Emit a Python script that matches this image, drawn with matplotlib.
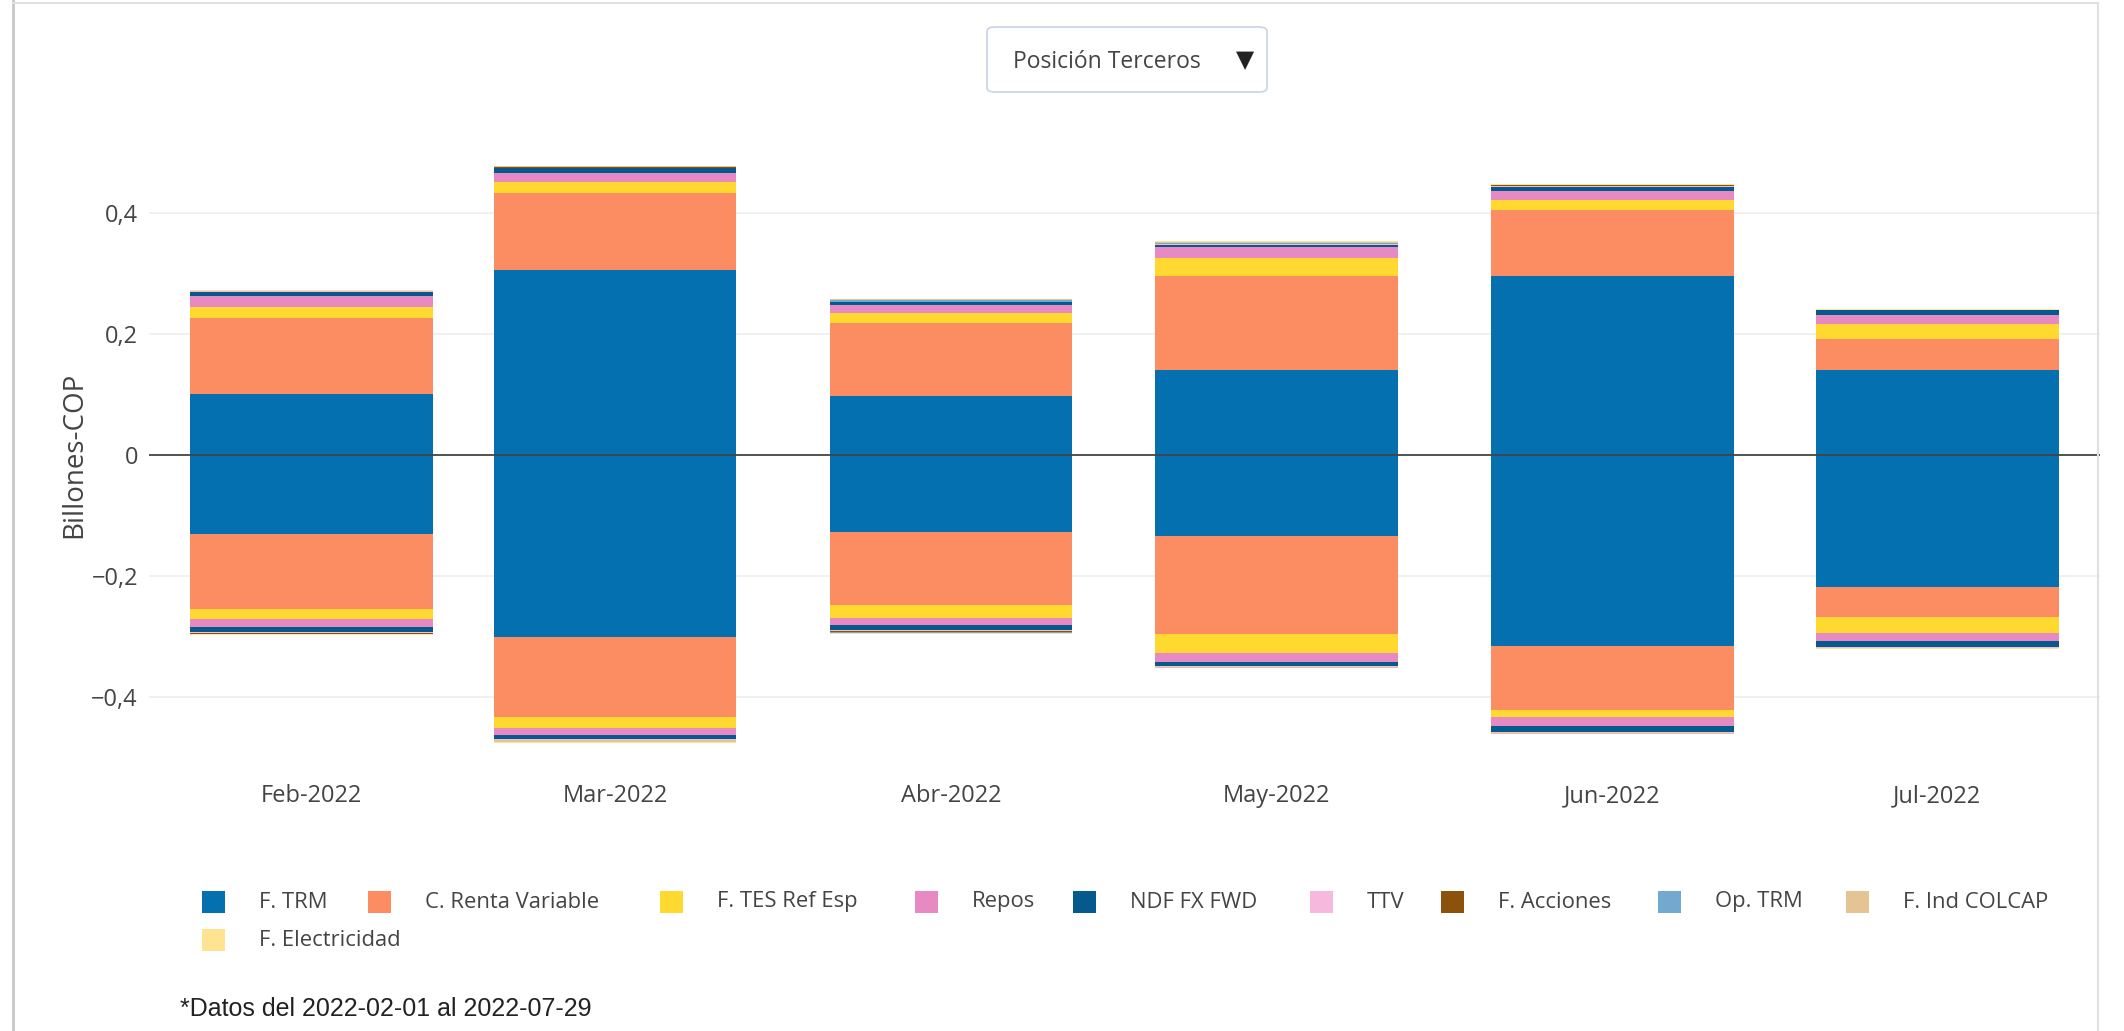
import matplotlib
matplotlib.use("Agg")
import matplotlib.pyplot as plt
import matplotlib.patches as mpatches
import matplotlib.dates as mdates
from matplotlib.ticker import FuncFormatter
import numpy as np

MONTHS = ["Feb-2022", "Mar-2022", "Abr-2022", "May-2022", "Jun-2022", "Jul-2022"]
DATES = ["2022-02-01", "2022-03-01", "2022-04-01", "2022-05-01", "2022-06-01", "2022-07-01"]

SERIES = ["F. TRM", "C. Renta Variable", "F. TES Ref Esp", "Repos", "NDF FX FWD",
          "TTV", "F. Acciones", "Op. TRM", "F. Ind COLCAP", "F. Electricidad"]
COLORS = ["#0570b0", "#fc8d62", "#ffd92f", "#e78ac3", "#045a8d",
          "#f6b8dc", "#8c510a", "#74a9cf", "#e5c494", "#fee391"]

# billones COP, positive and negative legs per series
TRM_POS   = [0.101, 0.305, 0.098, 0.141, 0.295, 0.141]
TRM_NEG   = [-0.130, -0.300, -0.127, -0.134, -0.316, -0.217]
RENTA_POS = [0.125, 0.127, 0.120, 0.154, 0.109, 0.050]
RENTA_NEG = [-0.124, -0.133, -0.120, -0.162, -0.105, -0.051]
TES_POS   = [0.019, 0.019, 0.016, 0.030, 0.016, 0.025]
TES_NEG   = [-0.017, -0.018, -0.022, -0.030, -0.011, -0.025]
REPOS_POS = [0.017, 0.015, 0.013, 0.019, 0.016, 0.015]
REPOS_NEG = [-0.013, -0.011, -0.011, -0.015, -0.016, -0.014]
NDF_POS   = [0.007, 0.007, 0.005, 0.003, 0.007, 0.008]
NDF_NEG   = [-0.008, -0.007, -0.009, -0.008, -0.009, -0.010]
TTV_POS   = [0.001, 0.001, 0.001, 0.001, 0.001, 0.001]
TTV_NEG   = [-0.001, -0.001, -0.001, -0.001, -0.001, -0.001]
ACC_POS   = [0.000, 0.001, 0.000, 0.000, 0.001, 0.000]
ACC_NEG   = [-0.002, -0.001, -0.002, 0.000, -0.001, 0.000]
OPTRM_POS = [0.000, 0.000, 0.003, 0.002, 0.000, 0.000]
OPTRM_NEG = [0.000, 0.000, -0.001, 0.000, 0.000, 0.000]
COLCAP_POS = [0.001, 0.002, 0.001, 0.002, 0.001, 0.000]
COLCAP_NEG = [-0.001, -0.003, -0.001, -0.001, -0.001, -0.001]
ELEC_POS  = [0.001, 0.000, 0.001, 0.001, 0.001, 0.001]
ELEC_NEG  = [-0.001, -0.001, -0.001, -0.001, -0.001, -0.001]

POS = [TRM_POS, RENTA_POS, TES_POS, REPOS_POS, NDF_POS,
       TTV_POS, ACC_POS, OPTRM_POS, COLCAP_POS, ELEC_POS]
NEG = [TRM_NEG, RENTA_NEG, TES_NEG, REPOS_NEG, NDF_NEG,
       TTV_NEG, ACC_NEG, OPTRM_NEG, COLCAP_NEG, ELEC_NEG]

TXT = "#444444"
W, H = 2124, 1031
BAR_DAYS = 22.4

fig = plt.figure(figsize=(W / 100, H / 100), dpi=100)
fig.patch.set_facecolor("white")

ax = fig.add_axes([149 / W, 1 - 758 / H, (2100 - 149) / W, (758 - 152) / H])
x = mdates.date2num(np.array(DATES, dtype="datetime64[D]"))
bottom_pos = np.zeros(len(MONTHS))
bottom_neg = np.zeros(len(MONTHS))
for name, col, pv, nv in zip(SERIES, COLORS, POS, NEG):
    pv = np.array(pv)
    nv = np.array(nv)
    ax.bar(x, pv, BAR_DAYS, bottom=bottom_pos, color=col, linewidth=0, zorder=2)
    ax.bar(x, nv, BAR_DAYS, bottom=bottom_neg, color=col, linewidth=0, zorder=2)
    bottom_pos += pv
    bottom_neg += nv

ax.set_xlim(x[0] - 15, x[-1] + 15)
ax.set_ylim(-0.5, 0.5)
ax.set_yticks([-0.4, -0.2, 0, 0.2, 0.4])
ax.yaxis.set_major_formatter(FuncFormatter(
    lambda v, p: "0" if abs(v) < 1e-9 else f"{v:.1f}".replace(".", ",").replace("-", "\u2212")))
ax.set_xticks(x)
ax.set_xticklabels(MONTHS)
for gy in [-0.4, -0.2, 0.2, 0.4]:
    ax.axhline(gy, color="#eeeeee", lw=1.2, zorder=0)
ax.axhline(0, color="#444444", lw=1.3, zorder=3)
for s in ax.spines.values():
    s.set_visible(False)
ax.tick_params(length=0, labelsize=17, labelcolor=TXT)
ax.tick_params(axis="x", pad=19)
ax.tick_params(axis="y", pad=8)
for lab in ax.get_xticklabels() + ax.get_yticklabels():
    lab.set_family("Open Sans")
ax.set_ylabel("Billones-COP", fontsize=20, color=TXT, family="Open Sans", labelpad=2)

# legend drawn by hand to match positions
leg_items = [(202, 902), (368, 902), (660, 902), (915, 902), (1073, 902),
             (1310, 902), (1441, 902), (1658, 902), (1846, 902), (202, 940)]
for (lx, ly), name, col in zip(leg_items, SERIES, COLORS):
    fig.patches.append(mpatches.Rectangle((lx / W, 1 - (ly + 11) / H), 23 / W, 22 / H,
                                          transform=fig.transFigure, facecolor=col,
                                          edgecolor="none"))
    fig.text((lx + 57) / W, 1 - ly / H, name, fontsize=15.8, color=TXT,
             family="Open Sans", va="center", ha="left")

# dropdown box
fig.patches.append(mpatches.FancyBboxPatch((987 / W, 1 - 92 / H), 280 / W, 65 / H,
                                           boxstyle="round,pad=0,rounding_size=0.004",
                                           transform=fig.transFigure, facecolor="white",
                                           edgecolor="#c8d4e3", lw=1.2))
fig.text(1013 / W, 1 - 62 / H, "Posición Terceros", fontsize=16.5, color=TXT,
         family="Open Sans", va="center", ha="left")
fig.text(1245 / W, 1 - 60 / H, "\u25bc", fontsize=17, color="#222222",
         family="DejaVu Sans", va="center", ha="center")

fig.text(180 / W, 1 - 1009 / H, "*Datos del 2022-02-01 al 2022-07-29", fontsize=18,
         color="#222222", family="Liberation Sans", va="center", ha="left")

# page frame lines
fig.add_artist(plt.Line2D([13 / W, 13 / W], [0, 1], color="#c8c8c8", lw=2,
                          transform=fig.transFigure))
fig.add_artist(plt.Line2D([13 / W, 2098 / W], [1 - 3 / H, 1 - 3 / H], color="#e0e0e0",
                          lw=1.5, transform=fig.transFigure))
fig.add_artist(plt.Line2D([2098 / W, 2098 / W], [1 - 3 / H, 0], color="#e0e0e0",
                          lw=1.5, transform=fig.transFigure))

fig.savefig("out.png", dpi=100)
